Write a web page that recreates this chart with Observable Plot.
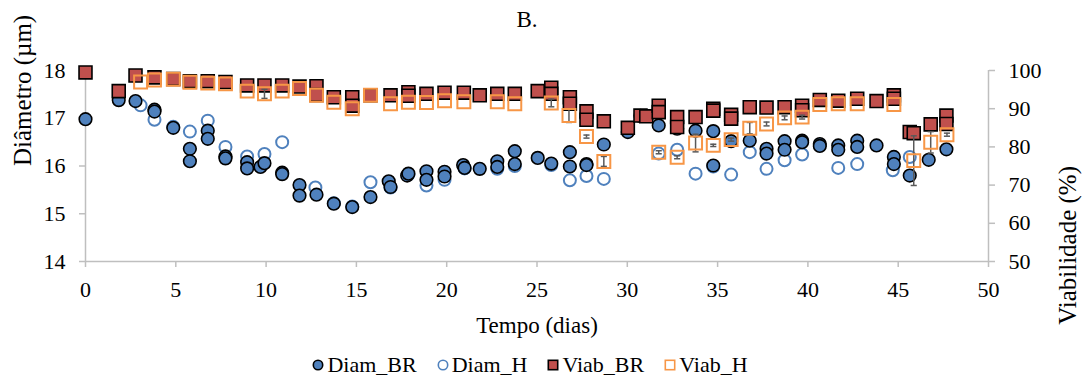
<!DOCTYPE html>
<html><head><meta charset="utf-8">
<script src="https://cdn.jsdelivr.net/npm/d3@7"></script>
<script src="https://cdn.jsdelivr.net/npm/@observablehq/plot@0.6"></script>
<style>
body{margin:0;background:#fff;font-family:"Liberation Serif","Times New Roman",serif;}
#title{width:1083px;box-sizing:border-box;padding-right:29px;height:40px;line-height:40px;text-align:center;font-size:23px;}
#chart svg{display:block;}
#legend{width:1083px;box-sizing:border-box;padding-right:23px;height:40px;display:flex;justify-content:center;align-items:center;font-size:22px;padding-top:9px;font-family:"Liberation Serif",serif;}
.item{display:flex;align-items:center;margin:0 10px;}
.item svg{margin-right:3px;}
</style>
</head><body>
<div id="title">B.</div>
<div id="chart"></div>
<div id="legend"></div>
<script>
// ---- data ----
const xTicks = [0,5,10,15,20,25,30,35,40,45,50];
const leftTicks = [14,15,16,17,18];
const rightTicks = [50,60,70,80,90,100];

const diamBR_day = [0,1.84,2.77,3.82,3.82,4.86,5.78,5.78,6.77,6.77,7.75,7.75,8.95,8.95,9.69,9.91,10.89,10.89,11.85,11.85,12.79,13.75,14.77,15.78,16.79,16.89,17.81,17.88,18.88,18.88,19.88,19.88,20.91,20.99,21.83,22.80,22.80,23.77,23.77,25.04,25.79,26.82,26.82,27.74,27.74,28.70,30.03,30.73,31.74,32.76,33.78,34.76,34.76,35.75,36.78,37.71,37.71,38.71,38.71,39.68,39.68,40.66,40.66,41.68,41.68,42.73,42.73,43.80,44.76,44.76,45.64,46.69,47.67];
const diamBR_val = [16.98,17.38,17.36,17.18,17.14,16.80,16.36,16.10,16.74,16.57,16.20,16.16,16.08,15.95,15.98,16.06,15.86,15.83,15.60,15.38,15.40,15.21,15.14,15.35,15.68,15.56,15.80,15.84,15.89,15.71,15.88,15.78,16.02,15.96,15.94,16.10,15.98,16.31,16.04,16.17,16.05,16.29,15.99,16.04,16.02,16.45,16.71,17.05,16.85,16.78,16.74,16.73,16.01,16.52,16.53,16.36,16.26,16.52,16.34,16.53,16.50,16.46,16.42,16.43,16.34,16.53,16.40,16.43,16.19,16.04,15.80,16.13,16.35];

const diamH_day = [3.05,3.82,4.86,5.78,6.77,7.75,8.95,9.91,10.89,12.73,13.75,14.77,15.78,16.89,17.88,18.88,19.88,20.99,22.80,23.77,25.79,26.82,27.74,28.70,31.74,32.76,33.78,34.76,35.75,36.78,37.71,38.71,39.68,41.68,42.73,44.70,45.64];
const diamH_val = [17.27,16.97,16.82,16.72,16.95,16.40,16.20,16.25,16.50,15.55,15.22,15.15,15.66,15.55,15.82,15.59,15.71,15.95,15.94,16.00,16.02,15.70,15.79,15.73,16.26,16.34,15.84,15.99,15.82,16.29,15.94,16.12,16.24,15.96,16.04,15.91,16.19];

const viabBR_day = [0,1.84,2.77,3.82,4.86,5.78,6.77,7.75,8.95,9.91,10.89,11.85,12.79,12.79,13.75,14.77,14.77,15.78,16.89,17.88,17.88,18.88,19.88,20.95,21.83,22.80,23.77,25.04,25.79,25.79,26.82,26.82,27.74,27.74,28.70,30.03,30.73,31.05,31.74,31.74,32.76,32.76,33.78,34.76,34.76,35.75,35.75,36.78,37.71,38.71,39.68,39.68,40.66,41.68,42.73,43.80,44.76,44.76,45.64,45.86,46.80,47.67,47.67];
const viabBR_val = [99.5,94.6,98.7,98.2,97.8,97.2,97.2,97.0,96.1,96.1,96.1,95.8,95.9,93.6,93.0,93.0,90.8,93.5,93.5,94.3,93.4,93.9,94.2,94.2,93.5,93.9,93.9,94.6,95.5,93.9,93.0,91.3,89.3,87.1,86.7,85.0,88.2,88.0,90.8,89.1,87.8,85.2,87.8,90.0,89.5,88.4,87.4,90.4,90.3,90.4,90.8,89.6,92.3,92.1,92.6,92.0,93.5,92.6,83.9,83.6,85.9,88.2,86.0];

const viabH_day = [3.05,3.82,4.86,5.78,6.77,7.75,8.95,9.91,10.89,11.85,12.79,13.75,14.77,15.78,16.89,17.88,18.88,19.88,20.95,22.80,23.77,25.79,26.77,27.74,28.70,31.74,32.76,33.78,34.76,35.75,36.78,37.71,38.71,39.68,40.66,41.68,42.73,44.76,45.86,46.80,47.70];
const viabH_val = [97.0,97.5,97.7,96.9,96.7,96.5,94.6,93.9,94.6,95.3,93.5,91.7,90.0,93.5,91.3,91.7,91.6,92.1,91.8,91.8,91.3,91.5,88.2,82.7,76.2,78.6,77.3,81.0,80.4,81.9,84.9,86.0,87.6,87.8,91.1,91.3,91.3,91.1,76.4,81.2,83.2];
const viabH_err = [0,0,0,0,0,0,0,1.2,0,0,0,0,0,0,0,0,0,0,0,0,0,1.0,1.8,0.4,1.3,0.4,0.4,2.3,0.3,0.4,1.5,0.5,0.5,0.5,0,0,0,0,6.5,2.8,0.4];

const colBlue = "#4F81BD", colRed = "#C0504D", colOrange = "#F79646", grey = "#bfbfbf", errCol = "#595959";

// secondary (viability) axis mapped onto diameter scale
const toL = v => 14 + (v - 50) * 0.08;
const fromL = d => Math.round((d - 14) / 0.08 + 50);

const diamBR = diamBR_day.map((d,i)=>({x:d, y:diamBR_val[i]}));
const diamH = diamH_day.map((d,i)=>({x:d, y:diamH_val[i]}));
const viabBR = viabBR_day.map((d,i)=>({x:d, v:viabBR_val[i]}));
const viabH = viabH_day.map((d,i)=>({x:d, v:viabH_val[i], e:viabH_err[i]}));
const viabHerr = viabH.filter(d => d.e > 0);

const font = "'Liberation Serif', 'Times New Roman', serif";
const plot = Plot.plot({
  width:1083, height:300,
  marginTop:30, marginBottom:79, marginLeft:85, marginRight:95,
  x:{domain:[0,50]}, y:{domain:[14,18]},
  style:{fontFamily:font, fontSize:"22px", color:"black", background:"white", overflow:"visible"},
  marks:[
    Plot.ruleY([14], {stroke:grey, strokeWidth:1.5}),
    Plot.ruleX([0], {stroke:grey, strokeWidth:1.5}),
    Plot.ruleX([50], {stroke:grey, strokeWidth:1.5}),
    Plot.axisX({ticks:xTicks, tickSize:6, tickPadding:14, stroke:grey, strokeWidth:1.5, fill:"black", label:null, tickFormat:d=>String(d), fontSize:22}),
    Plot.axisY({anchor:"left", ticks:leftTicks, tickSize:6, tickPadding:14, stroke:grey, strokeWidth:1.5, fill:"black", label:null, tickFormat:d=>String(d), fontSize:22}),
    Plot.axisY({anchor:"right", ticks:rightTicks.map(toL), tickSize:6, tickPadding:14, stroke:grey, strokeWidth:1.5, fill:"black", label:null, tickFormat:d=>String(fromL(d)), fontSize:22}),
    Plot.text(["Tempo (dias)"], {frameAnchor:"bottom", dy:71, text:d=>d, fontSize:23, fill:"black"}),
    Plot.text(["Diâmetro (µm)"], {frameAnchor:"left", dx:-63, rotate:-90, text:d=>d, fontSize:25, fill:"black"}),
    Plot.text(["Viabilidade (%)"], {frameAnchor:"right", dx:79, rotate:-90, text:d=>d, fontSize:25, fill:"black"}),
    Plot.dot(diamH, {x:"x", y:"y", r:6, fill:"none", stroke:colBlue, strokeWidth:2}),
    Plot.dot(diamBR, {x:"x", y:"y", r:6.3, fill:colBlue, stroke:"black", strokeWidth:1.6}),
    Plot.dot(viabBR, {x:"x", y:d=>toL(d.v), symbol:"square", r:7.3, fill:colRed, stroke:"black", strokeWidth:1.6}),
    Plot.ruleX(viabHerr, {x:"x", y1:d=>toL(d.v-d.e), y2:d=>toL(d.v+d.e), stroke:errCol, strokeWidth:1.5}),
    Plot.link(viabHerr, {x1:d=>d.x-0.17, x2:d=>d.x+0.17, y1:d=>toL(d.v+d.e), y2:d=>toL(d.v+d.e), stroke:errCol, strokeWidth:1.5}),
    Plot.link(viabHerr, {x1:d=>d.x-0.17, x2:d=>d.x+0.17, y1:d=>toL(d.v-d.e), y2:d=>toL(d.v-d.e), stroke:errCol, strokeWidth:1.5}),
    Plot.dot(viabH, {x:"x", y:d=>toL(d.v), symbol:"square", r:7.3, fill:"none", stroke:colOrange, strokeWidth:2})
  ]
});
document.getElementById("chart").appendChild(plot);

// legend
const legendItems = [
  {name:"Diam_BR", shape:"circle", fill:colBlue, stroke:"black"},
  {name:"Diam_H", shape:"circle", fill:"none", stroke:colBlue},
  {name:"Viab_BR", shape:"square", fill:colRed, stroke:"black"},
  {name:"Viab_H", shape:"square", fill:"none", stroke:colOrange}
];
const leg = document.getElementById("legend");
for (const it of legendItems) {
  const div = document.createElement("div"); div.className = "item";
  const shape = it.shape === "circle"
    ? `<circle cx="6" cy="6" r="4.7" fill="${it.fill}" stroke="${it.stroke}" stroke-width="1.6"/>`
    : `<rect x="1.3" y="1.3" width="9.4" height="9.4" fill="${it.fill}" stroke="${it.stroke}" stroke-width="1.6"/>`;
  div.innerHTML = `<svg width="12" height="12">${shape}</svg><span>${it.name}</span>`;
  leg.appendChild(div);
}
</script>
</body></html>
